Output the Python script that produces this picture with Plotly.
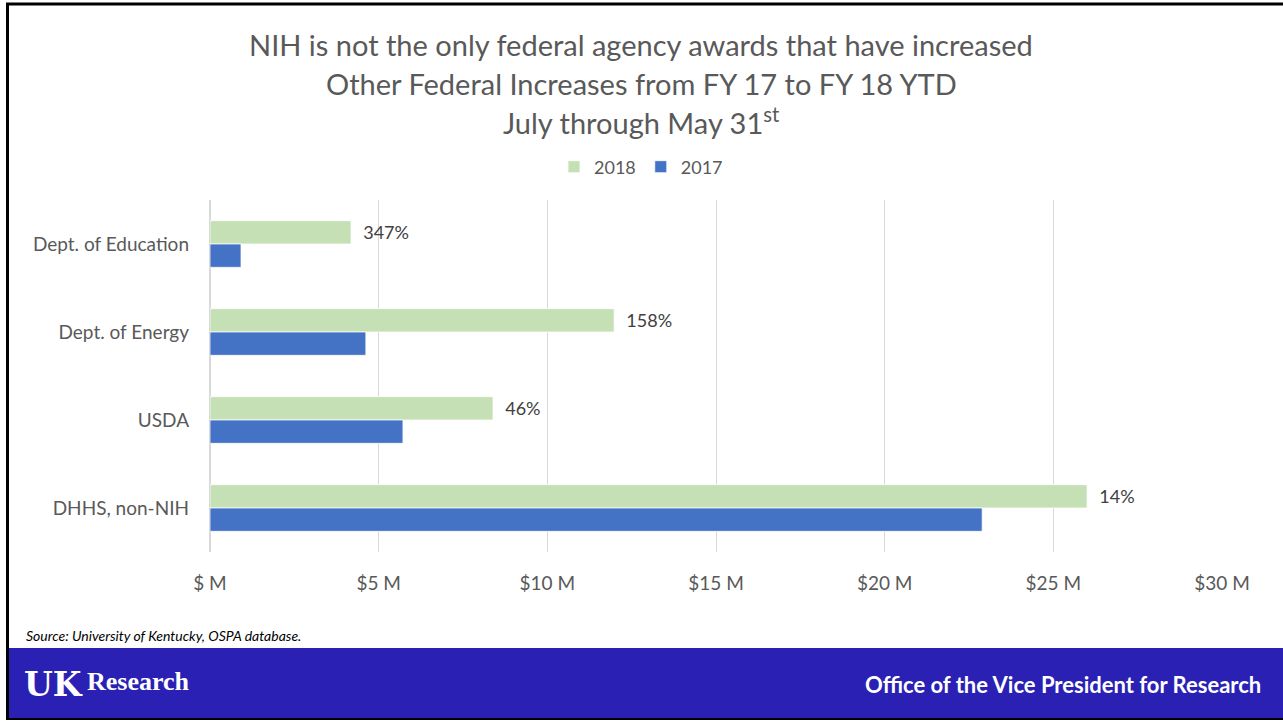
import plotly.graph_objects as go

categories = ["Dept. of Education", "Dept. of Energy", "USDA", "DHHS, non-NIH"]
values_2018 = [4.18, 11.98, 8.39, 26.0]
values_2017 = [0.92, 4.62, 5.72, 22.89]
pct_labels = ["347%", "158%", "46%", "14%"]
tick_vals = [0, 5, 10, 15, 20, 25, 30]
tick_text = ["$ M", "$5 M", "$10 M", "$15 M", "$20 M", "$25 M", "$30 M"]

W, H = 1283, 721
L, R, T, B = 210, 1222, 200, 552
FONT = "Lato"
GREY = "#595959"


def px(x):
    return (x - L) / (R - L)


def py(y):
    return (B - y) / (B - T)


fig = go.Figure()
fig.add_trace(go.Bar(
    y=categories, x=values_2018, orientation="h", name="2018",
    marker=dict(color="#c5e0b4", line=dict(color="white", width=0.75)),
    text=["\u00a0\u00a0" + s for s in pct_labels], textposition="outside",
    textfont=dict(family=FONT, size=18, color="#404040"),
    cliponaxis=False,
))
fig.add_trace(go.Bar(
    y=categories, x=values_2017, orientation="h", name="2017",
    marker=dict(color="#4472c4", line=dict(color="white", width=0.75)),
))

shapes = [
    dict(type="rect", xref="paper", yref="paper", x0=px(7), x1=px(1290), y0=py(648), y1=py(718),
         fillcolor="#2a21b4", line=dict(width=0), layer="below"),
    dict(type="line", xref="paper", yref="paper", x0=px(7.5), x1=px(7.5), y0=py(3), y1=py(719),
         line=dict(color="black", width=3)),
    dict(type="line", xref="paper", yref="paper", x0=px(6), x1=px(1290), y0=py(4), y1=py(4),
         line=dict(color="black", width=3)),
    dict(type="line", xref="paper", yref="paper", x0=px(6), x1=px(1290), y0=py(719), y1=py(719),
         line=dict(color="black", width=2)),
]

annotations = [
    dict(text="NIH is not the only federal agency awards that have increased", x=px(641), y=py(45)),
    dict(text="Other Federal Increases from FY 17 to FY 18 YTD", x=px(641), y=py(84)),
    dict(text="July through May 31<sup>st</sup>", x=px(641), y=py(121)),
]
for a in annotations:
    a.update(xref="paper", yref="paper", showarrow=False, xanchor="center", yanchor="middle",
             font=dict(family=FONT, size=29, color=GREY))

annotations += [
    dict(text="<i>Source: University of Kentucky, OSPA database.</i>", x=px(24), y=py(635),
         xref="paper", yref="paper", showarrow=False, xanchor="left", yanchor="middle",
         font=dict(family=FONT, size=14, color="black")),
    dict(text="<b>Office of the Vice President for Research</b>", x=px(1263), y=py(684),
         xref="paper", yref="paper", showarrow=False, xanchor="right", yanchor="middle",
         font=dict(family=FONT, size=22, color="white")),
    dict(text="<b>UK</b>", x=px(22), y=py(684),
         xref="paper", yref="paper", showarrow=False, xanchor="left", yanchor="middle",
         font=dict(family="DejaVu Serif", size=33, color="white")),
    dict(text="<b>Research</b>", x=px(85), y=py(681),
         xref="paper", yref="paper", showarrow=False, xanchor="left", yanchor="middle",
         font=dict(family="Liberation Serif", size=26, color="white")),
]

fig.update_layout(
    width=W, height=H,
    margin=dict(l=L, r=W - R, t=T, b=H - B, pad=0),
    paper_bgcolor="white", plot_bgcolor="white",
    barmode="group", bargap=0.47, bargroupgap=0,
    font=dict(family=FONT, size=18, color=GREY),
    showlegend=True,
    legend=dict(orientation="h", x=px(641), y=py(167), xanchor="center", yanchor="middle",
                traceorder="normal", font=dict(family=FONT, size=18, color=GREY),
                itemwidth=30, bgcolor="rgba(0,0,0,0)"),
    xaxis=dict(range=[0, 30], tickvals=tick_vals, ticktext=tick_text, showgrid=True,
               gridcolor="#d9d9d9", gridwidth=1, zeroline=True, zerolinecolor="#d9d9d9",
               showline=False, ticks="", ticklabelstandoff=18,
               tickfont=dict(family=FONT, size=19, color=GREY)),
    yaxis=dict(autorange="reversed", showgrid=False, showline=False, ticks="",
               ticklabelstandoff=20, tickfont=dict(family=FONT, size=19, color=GREY)),
    shapes=shapes, annotations=annotations,
)

fig.write_html("out.html", config={"displayModeBar": False},
               post_script="document.body.style.margin='0';document.body.style.overflow='hidden';")
